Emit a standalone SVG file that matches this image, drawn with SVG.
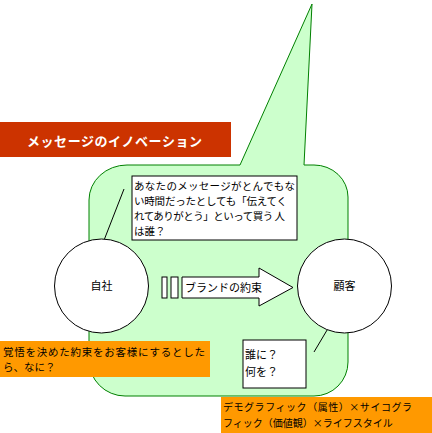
<svg xmlns="http://www.w3.org/2000/svg" width="432" height="433" viewBox="0 0 432 433">
<style>
text{font-family:"Noto Sans CJK JP","Noto Sans",sans-serif;font-size:11px;fill:#000}
.sm{font-size:10.5px}
.xs{font-size:10px}
.title{font-size:13px;font-weight:bold;fill:#fff}
.node{fill:#fff;stroke:#000;stroke-width:1}
.orange{fill:#FF9900}
.conn{stroke:#000;stroke-width:1;fill:none}
</style>
<rect width="432" height="433" fill="#fff"/>
<g id="bubble">
<path d="M127,165 H240 L312,4 L304,165 H314 A34,32 0 0 1 348,197 V362 A34,34 0 0 1 314,396 H125 A36,36 0 0 1 89,360 V200 A38,35 0 0 1 127,165 Z" fill="#CCFFCC" stroke="#008000" stroke-width="1"/>
</g>
<g id="title">
<rect x="0" y="122" width="231" height="35" fill="#CC3300"/>
<text class="title" x="27" y="146" textLength="175">メッセージのイノベーション</text>
</g>
<g id="connectors">
<line class="conn" x1="124" y1="189" x2="92" y2="271"/>
<line class="conn" x1="339" y1="310" x2="314" y2="352"/>
</g>
<g id="question">
<rect class="node" x="132" y="176" width="165" height="64"/>
<text class="sm" x="134" y="190" textLength="161">あなたのメッセージがとんでもな</text>
<text class="sm" x="134" y="205" textLength="153">い時間だったとしても「伝えてく</text>
<text class="sm" x="134" y="220" textLength="151">れてありがとう」といって買う 人</text>
<text class="sm" x="134" y="235">は誰？</text>
</g>
<g id="jisha">
<circle class="node" cx="101.5" cy="286" r="47"/>
<text x="101.5" y="290" text-anchor="middle">自社</text>
</g>
<g id="kokyaku">
<circle class="node" cx="344.5" cy="286" r="47"/>
<text x="344.5" y="290" text-anchor="middle">顧客</text>
</g>
<g id="brand">
<rect class="node" x="162" y="277" width="5" height="21"/>
<rect class="node" x="171" y="277" width="7" height="21"/>
<path class="node" d="M182,277 H259 V268 L293,287.5 L259,306 V298 H182 Z"/>
<text x="185" y="292">ブランドの約束</text>
</g>
<g id="kakugo">
<rect class="orange" x="0" y="341" width="210" height="36"/>
<text class="sm" x="3" y="356" textLength="202">覚悟を決めた約束をお客様にするとした</text>
<text class="sm" x="3" y="371">ら、なに？</text>
</g>
<g id="dare">
<rect class="node" x="243" y="340" width="63" height="48"/>
<text x="245" y="359">誰に？</text>
<text x="245" y="376">何を？</text>
</g>
<g id="demo">
<rect class="orange" x="221" y="397" width="211" height="36"/>
<text class="xs" x="223" y="411" textLength="189">デモグラフィック（属性）×サイコグラ</text>
<text class="xs" x="223" y="427">フィック（価値観）×ライフスタイル</text>
</g>
</svg>
